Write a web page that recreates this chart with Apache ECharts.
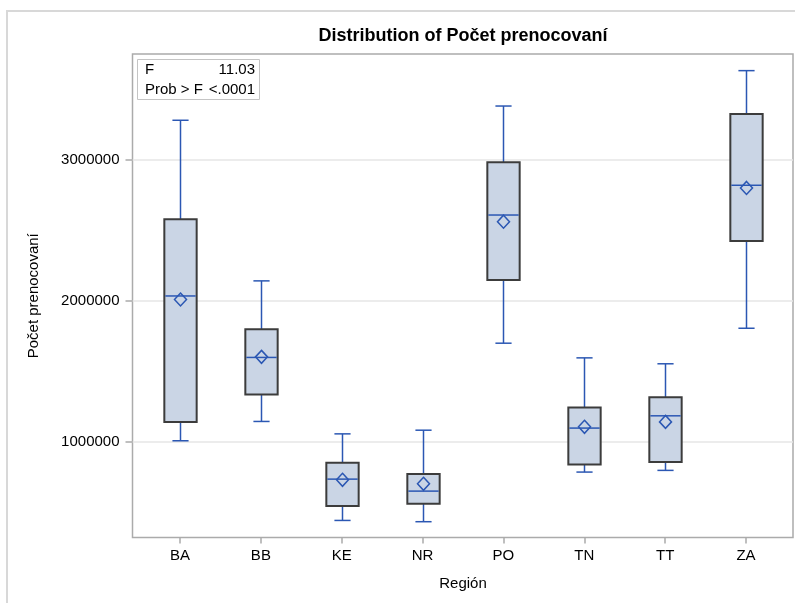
<!DOCTYPE html>
<html>
<head>
<meta charset="utf-8">
<title>Distribution of Počet prenocovaní</title>
<script src="https://cdn.jsdelivr.net/npm/echarts@6.0.0/dist/echarts.min.js"></script>
<style>
	html, body { margin: 0; padding: 0; background: #fff; }
	#chart { width: 795px; height: 603px; }
</style>
</head>
<body>
<div id="chart"></div>
<script>
// data
var categories = ['BA', 'BB', 'KE', 'NR', 'PO', 'TN', 'TT', 'ZA'];
var whiskerLow = [1006000, 1143000, 441000, 432000, 1698000, 784000, 796000, 1804000];
var q1 = [1140000, 1335000, 543000, 559000, 2147000, 838000, 855000, 2423000];
var median = [2033000, 1597000, 734000, 649000, 2607000, 1096000, 1183000, 2818000];
var q3 = [2577000, 1797000, 850000, 770000, 2981000, 1242000, 1315000, 3323000];
var whiskerHigh = [3279000, 2140000, 1055000, 1081000, 3380000, 1594000, 1552000, 3631000];
var mean = [2008000, 1601000, 729000, 701000, 2560000, 1105000, 1140000, 2799000];
var yTicks = [1000000, 2000000, 3000000];
var statNames = ['F', 'Prob > F'];
var statValues = ['11.03', '<.0001'];

var FONT = '"Liberation Sans", Arial, sans-serif';
var LINE_BLUE = '#2B57B3';
var BOX_FILL = '#CAD5E5';
var BOX_EDGE = '#3c3c3c';

/**
 * Draw one box: whiskers, box, median and mean
 */
function renderBox(params, api) {
	var i = api.value(0);
	var x = Math.round(api.coord([i, 0])[0]) + 0.5;
	var band = api.size([1, 0])[0];
	var half = band * 0.2;
	var cap = band * 0.1;
	var yLow = api.coord([i, api.value(1)])[1];
	var yQ1 = api.coord([i, api.value(2)])[1];
	var yMed = api.coord([i, api.value(3)])[1];
	var yQ3 = api.coord([i, api.value(4)])[1];
	var yHigh = api.coord([i, api.value(5)])[1];
	var yMean = api.coord([i, api.value(6)])[1];
	var lineStyle = { stroke: LINE_BLUE, lineWidth: 1.5 };
	return {
		type: 'group',
		children: [
			{ type: 'line', shape: { x1: x, y1: yHigh, x2: x, y2: yQ3 }, style: lineStyle },
			{ type: 'line', shape: { x1: x, y1: yQ1, x2: x, y2: yLow }, style: lineStyle },
			{ type: 'line', shape: { x1: x - cap, y1: yHigh, x2: x + cap, y2: yHigh }, style: lineStyle },
			{ type: 'line', shape: { x1: x - cap, y1: yLow, x2: x + cap, y2: yLow }, style: lineStyle },
			{
				type: 'rect',
				shape: { x: x - half, y: yQ3, width: half * 2, height: yQ1 - yQ3 },
				style: { fill: BOX_FILL, stroke: BOX_EDGE, lineWidth: 2 }
			},
			{ type: 'line', shape: { x1: x - half + 1, y1: yMed, x2: x + half - 1, y2: yMed }, style: lineStyle },
			{
				type: 'polygon',
				shape: { points: [[x, yMean - 6.5], [x + 6, yMean], [x, yMean + 6.5], [x - 6, yMean]] },
				style: { fill: 'none', stroke: LINE_BLUE, lineWidth: 1.5 }
			}
		]
	};
}

var chart = echarts.init(document.getElementById('chart'));

var boxData = [];
for (var i = 0; i < categories.length; i++) {
	boxData.push([i, whiskerLow[i], q1[i], median[i], q3[i], whiskerHigh[i], mean[i]]);
}

var yMin = 320000;
var yMax = 3749000;

var option = {
	backgroundColor: '#fff',
	animation: false,
	graphic: [
		{
			type: 'rect',
			shape: { x: 7, y: 11, width: 800, height: 600 },
			style: { fill: 'none', stroke: '#d8d8d8', lineWidth: 2 },
			z: 0
		},
		{
			type: 'text',
			x: 463, y: 36,
			style: {
				text: 'Distribution of Počet prenocovaní',
				font: 'bold 18px ' + FONT,
				fill: '#000', align: 'center', verticalAlign: 'middle'
			}
		},
		{
			type: 'group',
			z: 10,
			children: [
				{
					type: 'rect',
					shape: { x: 137.5, y: 59.5, width: 122, height: 40 },
					style: { fill: '#fff', stroke: '#c4c4c4', lineWidth: 1 }
				},
				{
					type: 'text', x: 145, y: 70,
					style: { text: statNames[0], font: '15px ' + FONT, fill: '#000', align: 'left', verticalAlign: 'middle' }
				},
				{
					type: 'text', x: 255, y: 70,
					style: { text: statValues[0], font: '15px ' + FONT, fill: '#000', align: 'right', verticalAlign: 'middle' }
				},
				{
					type: 'text', x: 145, y: 89.5,
					style: { text: statNames[1], font: '15px ' + FONT, fill: '#000', align: 'left', verticalAlign: 'middle' }
				},
				{
					type: 'text', x: 255, y: 89.5,
					style: { text: statValues[1], font: '15px ' + FONT, fill: '#000', align: 'right', verticalAlign: 'middle' }
				}
			]
		}
	],
	grid: [
		// frame + y axis
		{ left: 132.5, right: 2, top: 54, bottom: 65.5, show: true, borderColor: '#ababab', borderWidth: 1.5, backgroundColor: 'transparent' },
		// category bands
		{ left: 139.6, right: 8.6, top: 54, bottom: 65.5 }
	],
	xAxis: [
		{ gridIndex: 0, type: 'value', min: 0, max: 1, show: false },
		{
			gridIndex: 1,
			type: 'category',
			data: categories,
			boundaryGap: true,
			name: 'Región',
			nameLocation: 'middle',
			nameGap: 39,
			nameTextStyle: { fontFamily: FONT, fontSize: 15, color: '#000' },
			axisLine: { show: false },
			axisTick: { show: true, alignWithLabel: true, length: 6, lineStyle: { color: '#ababab', width: 1.5 } },
			axisLabel: { fontFamily: FONT, fontSize: 15, color: '#000', margin: 11 },
			splitLine: { show: false }
		}
	],
	yAxis: [
		{
			gridIndex: 0,
			type: 'value',
			min: yMin,
			max: yMax,
			name: 'Počet prenocovaní',
			nameLocation: 'middle',
			nameGap: 91,
			nameRotate: 90,
			nameTextStyle: { fontFamily: FONT, fontSize: 15, color: '#000' },
			axisLine: { show: false },
			axisTick: { show: true, length: 7, customValues: yTicks, lineStyle: { color: '#ababab', width: 1.5 } },
			axisLabel: {
				fontFamily: FONT, fontSize: 15, color: '#000', margin: 13, customValues: yTicks,
				formatter: function (v) { return String(v); }
			},
			splitLine: { show: true, lineStyle: { color: '#e6e6e6', width: 1.5 } }
		},
		{ gridIndex: 1, type: 'value', min: yMin, max: yMax, show: false, splitLine: { show: false } }
	],
	series: [
		{
			type: 'custom',
			xAxisIndex: 1,
			yAxisIndex: 1,
			renderItem: renderBox,
			data: boxData,
			z: 5
		}
	]
};

chart.setOption(option);
</script>
</body>
</html>
